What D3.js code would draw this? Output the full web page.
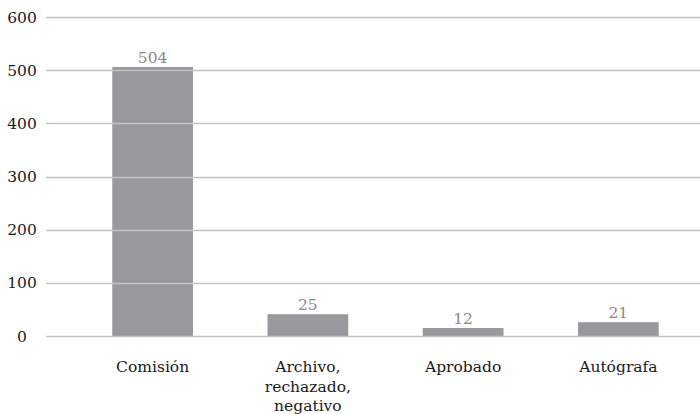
<!DOCTYPE html>
<html>
<head>
<meta charset="utf-8">
<script src="https://cdn.jsdelivr.net/npm/d3@7"></script>
<style>
  body { margin: 0; background: #fff; }
  text { font-family: "DejaVu Serif", serif; }
</style>
</head>
<body>
<div id="chart"></div>
<script>
const categories = [["Comisión"], ["Archivo,", "rechazado,", "negativo"], ["Aprobado"], ["Autógrafa"]];
const barValues = [506, 41, 15, 26];
const valueLabels = ["504", "25", "12", "21"];
const yTicks = [0, 100, 200, 300, 400, 500, 600];

const width = 700, height = 414;

const svg = d3.select("#chart")
  .append("svg")
  .attr("width", width)
  .attr("height", height);

const x = d3.scaleBand()
  .domain(d3.range(categories.length))
  .range([75, 696])
  .paddingInner(0.48)
  .paddingOuter(0.24);

const y = d3.scaleLinear()
  .domain([0, 600])
  .range([336, 17]);

// bars first, grid lines sit on top of them
svg.selectAll("rect.bar")
  .data(barValues)
  .enter()
  .append("rect")
  .attr("class", "bar")
  .attr("x", (d, i) => x(i))
  .attr("width", x.bandwidth())
  .attr("y", d => y(d))
  .attr("height", d => y(0) - y(d))
  .attr("fill", "#98999c");

svg.selectAll("line.grid")
  .data(yTicks)
  .enter()
  .append("line")
  .attr("class", "grid")
  .attr("x1", 46)
  .attr("x2", width)
  .attr("y1", d => Math.round(y(d)) + 0.5)
  .attr("y2", d => Math.round(y(d)) + 0.5)
  .attr("stroke", "#c4c4c4")
  .attr("stroke-width", 1.4);

svg.selectAll("text.ytick")
  .data(yTicks)
  .enter()
  .append("text")
  .attr("class", "ytick")
  .attr("x", 22)
  .attr("y", d => y(d) + 5.5)
  .attr("text-anchor", "middle")
  .attr("font-size", 15.5)
  .attr("fill", "#1a1a1a")
  .text(d => d);

svg.selectAll("text.value")
  .data(barValues)
  .enter()
  .append("text")
  .attr("class", "value")
  .attr("x", (d, i) => x(i) + x.bandwidth() / 2)
  .attr("y", d => y(d) - 4)
  .attr("text-anchor", "middle")
  .attr("font-size", 15.5)
  .attr("fill", "#8a8a8a")
  .text((d, i) => valueLabels[i]);

const xlab = svg.selectAll("text.xlab")
  .data(categories)
  .enter()
  .append("text")
  .attr("class", "xlab")
  .attr("text-anchor", "middle")
  .attr("font-size", 15.5)
  .attr("fill", "#1a1a1a");

xlab.selectAll("tspan")
  .data((d, i) => d.map(line => ({ line, i })))
  .enter()
  .append("tspan")
  .attr("x", d => x(d.i) + x.bandwidth() / 2)
  .attr("y", (d, j) => 372 + j * 19.5)
  .text(d => d.line);
</script>
</body>
</html>
